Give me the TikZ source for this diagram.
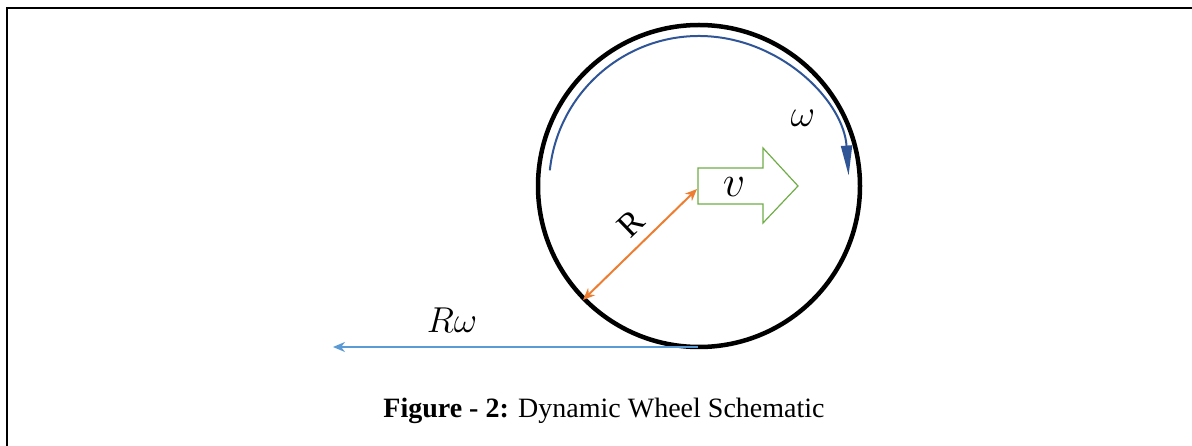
\RequirePackage{fix-cm}
\documentclass[tikz,border=0pt]{standalone}
\usepackage{fontspec}
\setmainfont{Liberation Serif}
\usetikzlibrary{arrows.meta}
\definecolor{wheelblue}{HTML}{2F5597}
\definecolor{lineblue}{HTML}{5B9BD5}
\definecolor{radorange}{HTML}{ED7D31}
\definecolor{velgreen}{HTML}{70AD47}
\tikzset{
  frameline/.style={line width=2.2pt, black},
  wheelstyle/.style={circle, draw=black, line width=4.5pt, minimum size=322pt, inner sep=0pt, outer sep=0pt},
  omegaarc/.style={draw=wheelblue, line width=2pt, -{Triangle[length=30pt,width=11pt]}},
  radiusarrow/.style={draw=radorange, line width=2pt, {Stealth[length=12pt,width=10pt]}-{Stealth[length=12pt,width=10pt]}},
  slip/.style={draw=lineblue, line width=2pt, -{Stealth[length=12pt,width=10pt]}},
  velbox/.style={draw=velgreen, line width=1.2pt, fill=white},
  mathlabel/.style={inner sep=0pt, font=\fontsize{38}{42}\selectfont},
  caption/.style={inner sep=0pt, font=\fontsize{28}{32}\selectfont}
}
\begin{document}
\begin{tikzpicture}[x=1pt,y=-1pt]
\useasboundingbox (0,0) rectangle (1192,446);
\draw[frameline] (7,446) -- (7,8) -- (1192,8);
\node[wheelstyle] (wheel) at (699,186) {};
% rotation arrow omega
\draw[omegaarc] ([shift={(186:150)}]wheel.center) arc[start angle=186, end angle=356, radius=150];
\node[mathlabel] (omega) at (803,118) {$\omega$};
% velocity arrow
\draw[velbox] (698,168) -- (763,168) -- (763,148) -- (798,186) -- (763,223) -- (763,204) -- (698,204) -- cycle;
\node[mathlabel, font=\fontsize{44}{48}\selectfont] (v) at (734,187) {$v$};
\coordinate (hub) at (697,189);
% radius
\coordinate (rim) at (583,300);
\draw[radiusarrow] (rim) -- (hub);
\node[inner sep=0pt, rotate=44, font=\fontsize{34}{38}\selectfont] (Rlabel) at (631,224) {R};
% contact velocity
\coordinate (contact) at (698,347);
\coordinate (slipend) at (333,347);
\draw[slip] (contact) -- (slipend);
\node[mathlabel, font=\fontsize{36}{40}\selectfont] (Rw) at (452,320) {$R\omega$};
% caption
\node[caption] (cap) at (604,411) {\textbf{Figure - 2:} Dynamic Wheel Schematic};
\end{tikzpicture}
\end{document}
